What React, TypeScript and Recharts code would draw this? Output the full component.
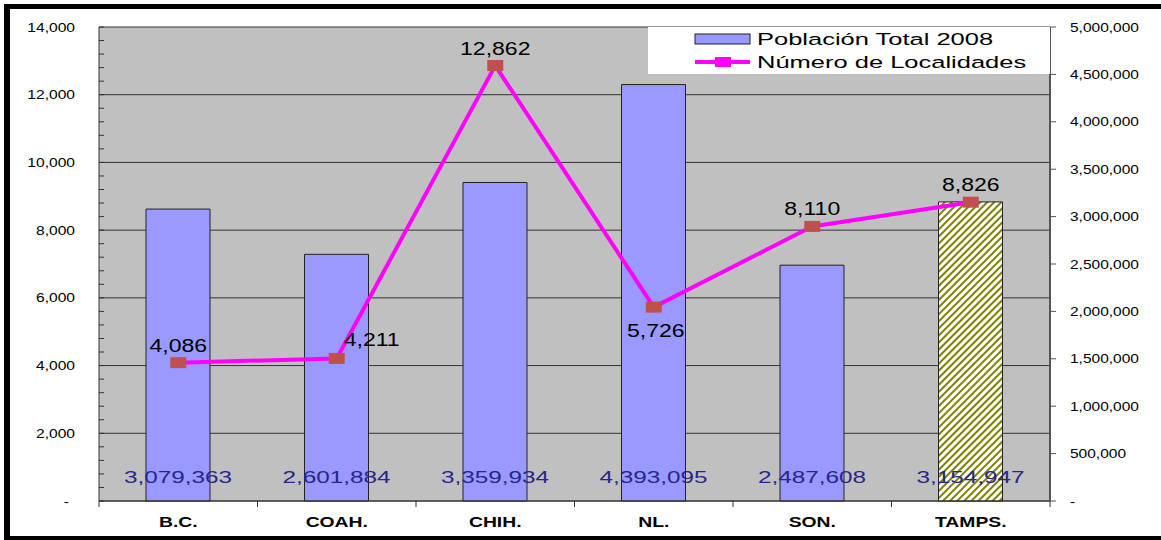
import React from 'react'
import {
  ComposedChart, Bar, Line, XAxis, YAxis, CartesianGrid, Legend, LabelList, Cell,
} from 'recharts'

const estados = ['B.C.', 'COAH.', 'CHIH.', 'NL.', 'SON.', 'TAMPS.']
const poblacion2008 = [3079363, 2601884, 3359934, 4393095, 2487608, 3154947]
const localidades = [4086, 4211, 12862, 5726, 8110, 8826]
const leftTicks = [0, 2000, 4000, 6000, 8000, 10000, 12000, 14000]
const rightTicks = [0, 500000, 1000000, 1500000, 2000000, 2500000, 3000000, 3500000, 4000000, 4500000, 5000000]
const leftMinorTicks = Array.from({ length: 36 }, (_, i) => i * 400)

const data = estados.map((estado, i) => ({
  estado,
  poblacion: poblacion2008[i],
  localidades: localidades[i],
}))

const FONT = '"Liberation Sans", Arial, sans-serif'
const fmt = (n: number) => n.toLocaleString('en-US')

function StretchText({ x, y, sx, size, anchor = 'middle', weight = 'normal', fill = '#000', children }: any) {
  return (
    <text
      transform={`translate(${x},${y}) scale(${sx},1)`}
      textAnchor={anchor}
      fontSize={size}
      fontFamily={FONT}
      fontWeight={weight}
      fill={fill}
    >
      {children}
    </text>
  )
}

function LeftTick({ x, y, payload }: any) {
  const v = payload.value
  const major = v % 2000 === 0
  return (
    <g>
      <line x1={x} x2={x + 5} y1={y} y2={y} stroke="#333" />
      {major && (
        <StretchText x={v === 0 ? x - 30 : x - 24} y={y + 4.5} sx={1.3} size={12} anchor="end">
          {v === 0 ? '-' : fmt(v)}
        </StretchText>
      )}
    </g>
  )
}

function RightTick({ x, y, payload }: any) {
  const v = payload.value
  return (
    <StretchText x={x} y={y + 4.5} sx={1.24} size={12.5} anchor="start">
      {v === 0 ? '-' : fmt(v)}
    </StretchText>
  )
}

function CategoryTick({ x, y, payload, index, width }: any) {
  const half = (Number(width) || 951) / estados.length / 2
  return (
    <g>
      {index === 0 && <line x1={x - half} x2={x - half} y1={y} y2={y + 6} stroke="#333" />}
      <line x1={x + half} x2={x + half} y1={y} y2={y + 6} stroke="#333" />
      <StretchText x={x} y={y + 26} sx={1.38} size={14} weight="bold">{payload.value}</StretchText>
    </g>
  )
}

function PopLabel(props: any) {
  const vb = props.viewBox || {}
  const x = props.x ?? vb.x
  const y = props.y ?? vb.y
  const w = props.width ?? vb.width
  const h = props.height ?? vb.height
  return (
    <StretchText x={x + w / 2} y={y + h - 18} sx={1.43} size={17} fill="#26268c">
      {fmt(Number(props.value))}
    </StretchText>
  )
}

// where each count label sits relative to its marker
const labelSide: Record<string, [number, number, string]> = {
  'COAH.': [7, -12, 'start'],
  'NL.': [2, 30, 'middle'],
}

function LocLabel(props: any) {
  const vb = props.viewBox || {}
  const x = props.x ?? vb.x
  const y = props.y ?? vb.y
  const [dx, dy, anchor] = labelSide[estados[props.index]] || [0, -11, 'middle']
  return (
    <StretchText x={x + dx} y={y + dy} sx={1.28} size={18} anchor={anchor}>
      {fmt(Number(props.value))}
    </StretchText>
  )
}

function SquareDot({ cx, cy, index }: any) {
  return <rect key={`dot-${index}`} x={cx - 8} y={cy - 5.5} width={16} height={11} fill="#C0504D" />
}

function LegendBox() {
  return (
    <svg width={402} height={47} style={{ display: 'block' }}>
      <rect width={402} height={47} fill="#fff" />
      <rect x={47} y={7} width={55} height={10} fill="#9999FF" stroke="#222" />
      <StretchText x={109} y={18} sx={1.5} size={17} anchor="start">Población Total 2008</StretchText>
      <line x1={47} x2={102} y1={35} y2={35} stroke="#FF00FF" strokeWidth={4} />
      <rect x={67} y={30} width={16} height={10} fill="#FF00FF" />
      <StretchText x={109} y={41} sx={1.5} size={17} anchor="start">Número de Localidades</StretchText>
    </svg>
  )
}

export default function App() {
  return (
    <div style={{ position: 'absolute', left: 0, top: 0, width: 1161, height: 540, background: '#fff', overflow: 'hidden' }}>
      <ComposedChart
        width={1161}
        height={540}
        data={data}
        margin={{ top: 27, right: 0, bottom: 0, left: 0 }}
      >
        <defs>
          <pattern id="hatch" patternUnits="userSpaceOnUse" width="5" height="5" patternTransform="rotate(45)">
            <rect width="5" height="5" fill="#fff" />
            <rect width="2" height="5" fill="#808000" />
          </pattern>
        </defs>
        <CartesianGrid
          yAxisId="left"
          vertical={false}
          horizontalValues={leftTicks}
          stroke="#333"
          fill="#C0C0C0"
        />
        <XAxis
          dataKey="estado"
          height={39}
          interval={0}
          tickLine={false}
          tickSize={0}
          tickMargin={0}
          axisLine={{ stroke: '#333' }}
          tick={<CategoryTick />}
        />
        <YAxis
          yAxisId="left"
          orientation="left"
          width={99}
          domain={[0, 14000]}
          ticks={leftMinorTicks}
          interval={0}
          tickLine={false}
          tickSize={0}
          tickMargin={0}
          axisLine={{ stroke: '#333' }}
          tick={<LeftTick />}
        />
        <YAxis
          yAxisId="right"
          orientation="right"
          width={111}
          domain={[0, 5000000]}
          ticks={rightTicks}
          interval={0}
          tickSize={6}
          tickMargin={14}
          tickLine={{ stroke: '#555' }}
          axisLine={{ stroke: '#555', strokeWidth: 2 }}
          tick={<RightTick />}
        />
        <Legend
          verticalAlign="middle"
          align="center"
          layout="horizontal"
          wrapperStyle={{ position: 'absolute', left: 648, top: 27, width: 402, height: 47 }}
          content={() => <LegendBox />}
        />
        <Bar
          yAxisId="right"
          dataKey="poblacion"
          name="Población Total 2008"
          barSize={64}
          stroke="#222"
          strokeWidth={1}
          isAnimationActive={false}
        >
          {data.map((d, i) => (
            <Cell key={d.estado} fill={i === estados.length - 1 ? 'url(#hatch)' : '#9999FF'} />
          ))}
          <LabelList dataKey="poblacion" content={<PopLabel />} />
        </Bar>
        <Line
          yAxisId="left"
          dataKey="localidades"
          name="Número de Localidades"
          stroke="#FF00FF"
          strokeWidth={4}
          dot={<SquareDot />}
          activeDot={false}
          isAnimationActive={false}
        >
          <LabelList dataKey="localidades" content={<LocLabel />} />
        </Line>
      </ComposedChart>
      <div
        style={{
          position: 'absolute', left: 4, top: 4, width: 1157, height: 536,
          boxSizing: 'border-box', borderTop: '5px solid #000', borderLeft: '6px solid #000',
          borderBottom: '4px solid #000', pointerEvents: 'none',
        }}
      />
    </div>
  )
}
